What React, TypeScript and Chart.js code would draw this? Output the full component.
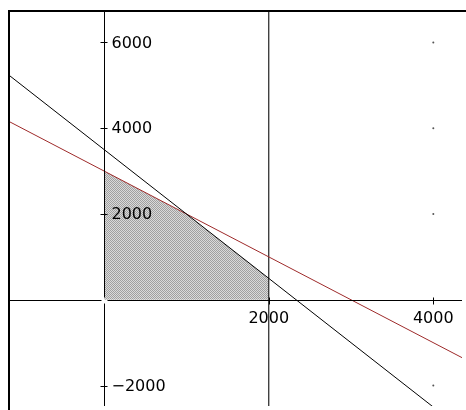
import React, { useEffect, useRef } from "react";
import { Chart, registerables } from "chart.js";

Chart.register(...registerables);

// Axis ranges and ticks
const X_MIN = -1145;
const X_MAX = 4349;
const Y_MIN = -2476;
const Y_MAX = 6709;
const X_TICKS = [2000, 4000];
const Y_TICKS = [-2000, 2000, 4000, 6000];

// Constraint line 1 (black): endpoints
const blackLineX = [-1200, 4400];
const blackLineY = [5300, -3100];
// Constraint line 2 (red)
const redLineX = [-1200, 4400];
const redLineY = [4200, -1400];
// Constraint x = 2000 (vertical)
const vertLineX = [2000, 2000];
const vertLineY = [-3000, 7000];
// Feasible region upper boundary (filled down to y = 0)
const regionX = [0, 1000, 2000];
const regionY = [3000, 2000, 500];
// Grid dots
const dotX = [4000, 4000, 4000, 4000];
const dotY = [6000, 4000, 2000, -2000];

const zip = (xs: number[], ys: number[]) => xs.map((x, i) => ({ x, y: ys[i] }));

const fmt = (v: number) => (v < 0 ? "\u2212" + Math.abs(v) : String(v));

const FONT = "16px 'DejaVu Sans', Verdana, sans-serif";

// Draws the axes crossing at the origin, using the chart's own scales
const axesPlugin = {
  id: "crossAxes",
  afterDatasetsDraw(chart: any) {
    const { ctx, chartArea, scales } = chart;
    const xs = scales.x;
    const ys = scales.y;
    const ox = Math.round(xs.getPixelForValue(0)) + 0.5;
    const oy = Math.round(ys.getPixelForValue(0)) + 0.5;
    const gap = 3;
    ctx.save();
    ctx.strokeStyle = "#000";
    ctx.lineWidth = 1;
    ctx.beginPath();
    // x axis
    ctx.moveTo(chartArea.left, oy);
    ctx.lineTo(ox - gap, oy);
    ctx.moveTo(ox + gap, oy);
    ctx.lineTo(chartArea.right, oy);
    // y axis
    ctx.moveTo(ox, chartArea.top);
    ctx.lineTo(ox, oy - gap);
    ctx.moveTo(ox, oy + gap);
    ctx.lineTo(ox, chartArea.bottom);
    // ticks
    for (const v of X_TICKS) {
      const px = Math.round(xs.getPixelForValue(v)) + 0.5;
      ctx.moveTo(px, oy - 3);
      ctx.lineTo(px, oy + 4);
    }
    for (const v of Y_TICKS) {
      const py = Math.round(ys.getPixelForValue(v)) + 0.5;
      ctx.moveTo(ox - 4, py);
      ctx.lineTo(ox + 3, py);
    }
    ctx.stroke();

    ctx.fillStyle = "#000";
    ctx.font = FONT;
    ctx.textAlign = "center";
    ctx.textBaseline = "middle";
    for (const v of X_TICKS) {
      ctx.fillText(fmt(v), xs.getPixelForValue(v), oy + 18);
    }
    ctx.textAlign = "left";
    for (const v of Y_TICKS) {
      ctx.fillText(fmt(v), ox + 7, ys.getPixelForValue(v) + 1);
    }
    ctx.restore();
  },
  afterDraw(chart: any) {
    const { ctx, chartArea } = chart;
    ctx.save();
    ctx.strokeStyle = "#000";
    ctx.lineWidth = 2;
    ctx.beginPath();
    ctx.moveTo(chartArea.left - 1, chartArea.bottom + 5);
    ctx.lineTo(chartArea.left - 1, chartArea.top - 1);
    ctx.lineTo(chartArea.right + 5, chartArea.top - 1);
    ctx.stroke();
    ctx.restore();
  },
};

function makePattern(): CanvasPattern | string {
  const c = document.createElement("canvas");
  c.width = 2;
  c.height = 2;
  const g = c.getContext("2d");
  if (!g) return "#b8b8b8";
  g.fillStyle = "#dadada";
  g.fillRect(0, 0, 2, 2);
  g.fillStyle = "#a0a0a0";
  g.fillRect(0, 0, 1, 1);
  g.fillRect(1, 1, 1, 1);
  const p = g.createPattern(c, "repeat");
  return p || "#b8b8b8";
}

export default function App() {
  const ref = useRef<HTMLCanvasElement | null>(null);

  useEffect(() => {
    if (!ref.current) return;
    const chart = new Chart(ref.current, {
      type: "line",
      data: {
        datasets: [
          {
            data: zip(blackLineX, blackLineY),
            borderColor: "#000",
            borderWidth: 1,
            pointRadius: 0,
            fill: false,
            order: 1,
          },
          {
            data: zip(redLineX, redLineY),
            borderColor: "#9e2a2a",
            borderWidth: 1,
            pointRadius: 0,
            fill: false,
            order: 1,
          },
          {
            data: zip(vertLineX, vertLineY),
            borderColor: "#222",
            borderWidth: 1.2,
            pointRadius: 0,
            fill: false,
            order: 1,
          },
          {
            data: zip(dotX, dotY),
            showLine: false,
            pointRadius: 1,
            pointBorderWidth: 0,
            pointBackgroundColor: "#555",
            order: 2,
          },
          {
            data: zip(regionX, regionY),
            borderWidth: 0,
            borderColor: "rgba(0,0,0,0)",
            pointRadius: 0,
            fill: "origin",
            backgroundColor: makePattern() as any,
            order: 5,
          },
        ],
      },
      options: {
        animation: false,
        responsive: false,
        devicePixelRatio: 1,
        layout: { padding: { left: 10, top: 12, right: 0, bottom: 0 } },
        plugins: { legend: { display: false }, tooltip: { enabled: false } },
        scales: {
          x: { type: "linear", min: X_MIN, max: X_MAX, display: false },
          y: { type: "linear", min: Y_MIN, max: Y_MAX, display: false },
        },
      },
      plugins: [axesPlugin],
    });
    return () => chart.destroy();
  }, []);

  return (
    <div style={{ position: "fixed", left: 0, top: 0, width: 466, height: 410, background: "#fff", overflow: "hidden" }}>
      <canvas ref={ref} width={466} height={410} style={{ display: "block", width: 466, height: 410 }} />
    </div>
  );
}
